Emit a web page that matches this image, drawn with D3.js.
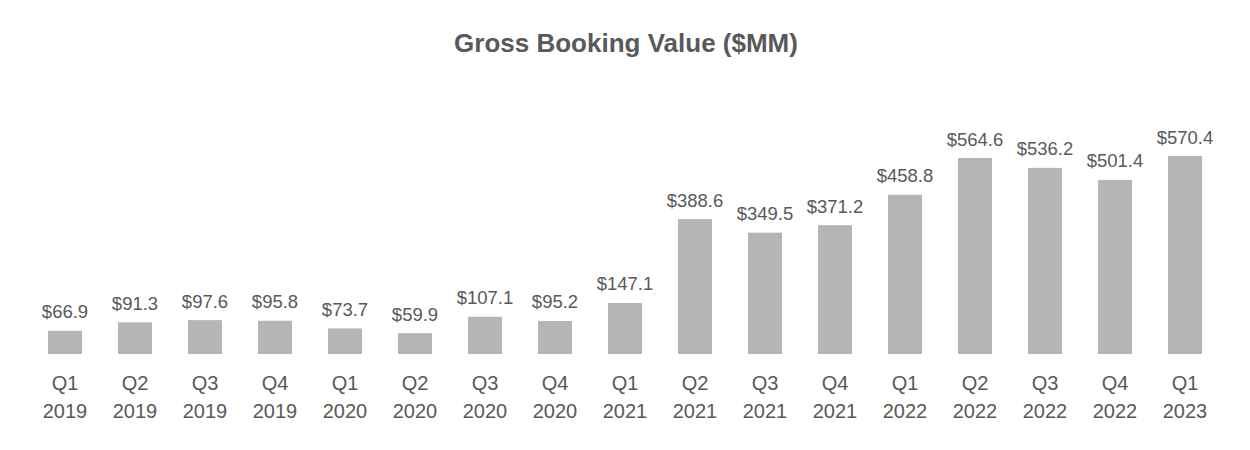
<!DOCTYPE html>
<html>
  <head>
    <meta charset="utf-8">
    <script src="https://cdn.jsdelivr.net/npm/d3@7/dist/d3.min.js"></script>
    <style>
      body { margin: 0; background: #fff; }
      text { font-family: "Liberation Sans", Arial, sans-serif; fill: #595959; }
      rect.bar { fill: #b5b5b5; }
    </style>
  </head>
  <body>
    <script>
      const quarters = ['Q1', 'Q2', 'Q3', 'Q4', 'Q1', 'Q2', 'Q3', 'Q4', 'Q1', 'Q2', 'Q3', 'Q4', 'Q1', 'Q2', 'Q3', 'Q4', 'Q1'];
      const years = ['2019', '2019', '2019', '2019', '2020', '2020', '2020', '2020', '2021', '2021', '2021', '2021', '2022', '2022', '2022', '2022', '2023'];
      const values = [66.9, 91.3, 97.6, 95.8, 73.7, 59.9, 107.1, 95.2, 147.1, 388.6, 349.5, 371.2, 458.8, 564.6, 536.2, 501.4, 570.4];

      const width = 1250;
      const height = 450;
      const baseline = 354;

      const keys = quarters.map((q, i) => q + ' ' + years[i]);

      const x = d3.scaleBand()
        .domain(keys)
        .range([30, 1220])
        .paddingInner(0.514)
        .paddingOuter(0.257);

      const y = d3.scaleLinear()
        .domain([0, 570.4])
        .range([baseline, 156]);

      const svg = d3.select('body')
        .append('svg')
        .attr('width', width)
        .attr('height', height);

      svg.append('text')
        .attr('x', 626)
        .attr('y', 52)
        .attr('text-anchor', 'middle')
        .style('font-size', '26px')
        .style('font-weight', 'bold')
        .text('Gross Booking Value ($MM)');

      svg.selectAll('rect.bar').data(values)
        .enter()
        .append('rect')
        .classed('bar', true)
        .attr('x', (d, i) => x(keys[i]))
        .attr('y', d => y(d))
        .attr('width', x.bandwidth())
        .attr('height', d => baseline - y(d));

      svg.selectAll('text.val').data(values)
        .enter()
        .append('text')
        .attr('class', 'val')
        .attr('x', (d, i) => x(keys[i]) + x.bandwidth() / 2)
        .attr('y', d => y(d) - 12.5)
        .attr('text-anchor', 'middle')
        .style('font-size', '18.5px')
        .text(d => '$' + d.toFixed(1));

      const cat = svg.selectAll('text.cat').data(keys)
        .enter()
        .append('text')
        .attr('class', 'cat')
        .attr('text-anchor', 'middle')
        .style('font-size', '20px');

      cat.append('tspan')
        .attr('x', d => x(d) + x.bandwidth() / 2)
        .attr('y', 390)
        .text((d, i) => quarters[i]);

      cat.append('tspan')
        .attr('x', d => x(d) + x.bandwidth() / 2)
        .attr('y', 418)
        .text((d, i) => years[i]);
    </script>
  </body>
</html>
